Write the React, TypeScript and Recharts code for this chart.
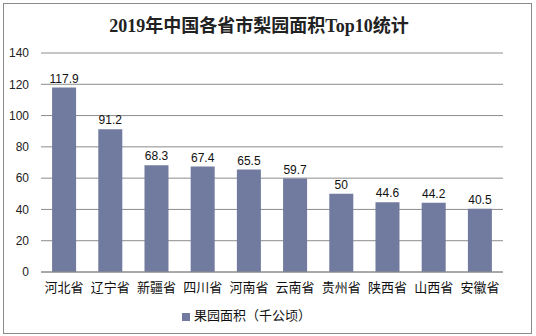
import { BarChart, Bar, XAxis, YAxis, CartesianGrid, LabelList, Legend } from "recharts";

const provinces = ["河北省", "辽宁省", "新疆省", "四川省", "河南省", "云南省", "贵州省", "陕西省", "山西省", "安徽省"];
const area = [117.9, 91.2, 68.3, 67.4, 65.5, 59.7, 50, 44.6, 44.2, 40.5];
const yTicks = [0, 20, 40, 60, 80, 100, 120, 140];
const boundaryTicks = [0, 1, 2, 3, 4, 5, 6, 7, 8, 9, 10];

const data = provinces.map((name, i) => ({ name, area: area[i], pos: i + 0.5 }));

const sans = "'Liberation Sans', Arial, 'Noto Sans CJK SC', sans-serif";

export default function App() {
  return (
    <div style={{ position: "fixed", left: 0, top: 0, width: 536, height: 336, background: "#fff" }}>
      <div
        style={{
          position: "absolute",
          left: 3,
          top: 3,
          width: 527,
          height: 329,
          border: "1px solid #8a8a8a",
        }}
      />
      <div
        style={{
          position: "absolute",
          left: -9,
          top: 11,
          width: 536,
          textAlign: "center",
          fontFamily: "'Liberation Serif', 'Noto Sans CJK SC', serif",
          fontWeight: "bold",
          fontSize: 18,
          color: "#222",
        }}
      >
        2019年中国各省市梨园面积Top10统计
      </div>
      <BarChart
        width={536}
        height={336}
        data={data}
        margin={{ top: 53, right: 33, bottom: 15, left: 0 }}
        barCategoryGap="24%"
        style={{ position: "absolute", left: 0, top: 0 }}
      >
        <CartesianGrid vertical={false} stroke="#8c8c8c" />
        {/* boundary tick marks between categories */}
        <XAxis
          xAxisId="edges"
          type="number"
          dataKey="pos"
          domain={[0, 10]}
          ticks={boundaryTicks}
          tick={false}
          tickSize={5}
          tickLine={{ stroke: "#8c8c8c" }}
          axisLine={false}
          height={0}
          orientation="bottom"
        />
        <XAxis
          dataKey="name"
          tickLine={false}
          axisLine={{ stroke: "#8c8c8c" }}
          tickMargin={5}
          height={30}
          interval={0}
          tick={{ fontSize: 13, fill: "#111", fontFamily: sans }}
        />
        <YAxis
          domain={[0, 140]}
          ticks={yTicks}
          width={41}
          axisLine={false}
          tickLine={false}
          tickMargin={6}
          tick={{ fontSize: 12, fill: "#222", fontFamily: sans }}
        />
        <Legend
          verticalAlign="bottom"
          align="center"
          iconType="square"
          iconSize={8}
          wrapperStyle={{ bottom: 12, fontFamily: sans, fontSize: 13 }}
          formatter={(v) => <span style={{ color: "#111" }}>{v}</span>}
        />
        <Bar dataKey="area" name="果园面积（千公顷）" fill="#717a9f" isAnimationActive={false}>
          <LabelList dataKey="area" position="top" fill="#111" fontSize={12} fontFamily={sans} offset={5} />
        </Bar>
      </BarChart>
    </div>
  );
}
